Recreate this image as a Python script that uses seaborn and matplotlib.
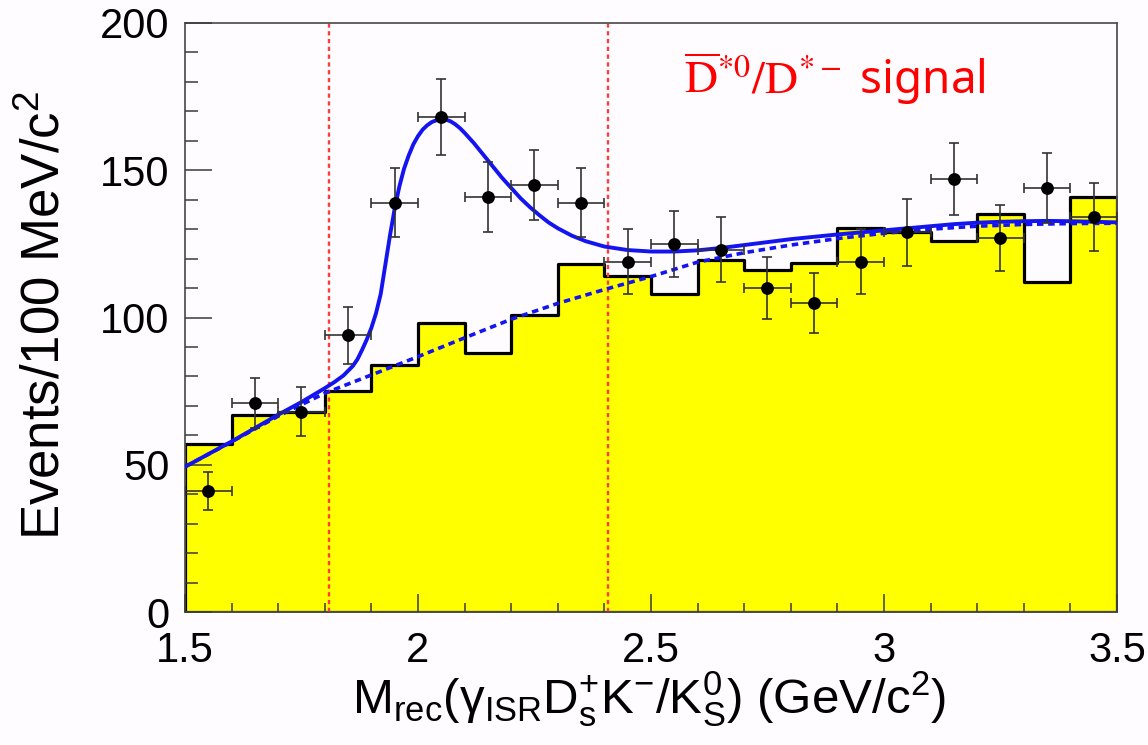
import numpy as np
import pandas as pd
import matplotlib
matplotlib.use("Agg")
import matplotlib.pyplot as plt
import seaborn as sns

# ---- data -------------------------------------------------------------
bin_edges = [1.5, 1.6, 1.7, 1.8, 1.9, 2.0, 2.1, 2.2, 2.3, 2.4, 2.5,
             2.6, 2.7, 2.8, 2.9, 3.0, 3.1, 3.2, 3.3, 3.4, 3.5]
bin_centers = [1.55, 1.65, 1.75, 1.85, 1.95, 2.05, 2.15, 2.25, 2.35, 2.45,
               2.55, 2.65, 2.75, 2.85, 2.95, 3.05, 3.15, 3.25, 3.35, 3.45]

# observed events per bin
data_counts = [41, 71, 68, 94, 139, 168, 141, 145, 139, 119,
               125, 123, 110, 105, 119, 129, 147, 127, 144, 134]

# background histogram (yellow)
bkg_hist = [57, 67, 68, 75, 84, 98, 88, 101, 118, 114,
            108, 119.5, 116, 118.5, 130.5, 129, 126, 135, 112, 141]

# background component of the fit (dashed)
bkg_fit_x = [1.50, 1.60, 1.70, 1.80, 1.90, 2.00, 2.10, 2.20, 2.30, 2.40, 2.50,
             2.60, 2.70, 2.80, 2.90, 3.00, 3.10, 3.20, 3.30, 3.40, 3.50]
bkg_fit_y = [49.3, 57.8, 66.5, 74.3, 80.5, 86.7, 93.1, 99.4, 104.8, 109.5, 113.9,
             118.8, 122.0, 124.6, 126.8, 128.6, 130.0, 131.0, 131.6, 131.9, 132.0]

# total fit (solid)
tot_fit_x = [1.50, 1.60, 1.70, 1.75, 1.80, 1.82, 1.84, 1.86, 1.87, 1.88, 1.89,
             1.90, 1.91, 1.92, 1.93, 1.94, 1.95, 1.96, 1.97, 1.98, 1.99,
             2.00, 2.01, 2.02, 2.03, 2.04, 2.05, 2.06, 2.07, 2.08, 2.09,
             2.10, 2.12, 2.14, 2.16, 2.18, 2.20, 2.22, 2.24, 2.26, 2.28,
             2.30, 2.33, 2.36, 2.40, 2.45, 2.50, 2.55, 2.60, 2.65, 2.70,
             2.75, 2.80, 2.85, 2.90, 2.95, 3.00, 3.05, 3.10, 3.15, 3.20,
             3.25, 3.30, 3.35, 3.40, 3.45, 3.50]
tot_fit_y = [49.3, 57.9, 67.0, 71.3, 76.0, 78.0, 80.3, 83.5, 85.8, 89.0, 92.5,
             96.5, 101.5, 108.0, 118.0, 128.0, 137.0, 144.5, 150.5, 155.0, 158.8,
             161.6, 163.8, 165.3, 166.4, 167.0, 167.3, 167.2, 166.6, 165.6, 164.3,
             162.7, 159.2, 155.3, 151.4, 147.5, 144.0, 140.5, 137.5, 134.8, 132.3,
             130.3, 127.8, 125.9, 124.1, 122.9, 122.4, 122.4, 122.8, 123.6, 124.6,
             125.6, 126.6, 127.4, 128.2, 128.9, 129.6, 130.3, 131.0, 131.7, 132.2,
             132.5, 132.7, 132.8, 132.7, 132.5, 132.3]

# signal window boundaries
window_lo = 1.808
window_hi = 2.407

x_ticks = [1.5, 2.0, 2.5, 3.0, 3.5]
x_ticklabels = ["1.5", "2", "2.5", "3", "3.5"]
y_ticks = [0, 50, 100, 150, 200]
y_ticklabels = ["0", "50", "100", "150", "200"]

# ---- style ------------------------------------------------------------
sns.set_theme(style="white")
plt.rcParams["font.family"] = ["Liberation Sans", "DejaVu Sans"]
plt.rcParams["mathtext.fontset"] = "custom"
plt.rcParams["mathtext.rm"] = "Liberation Sans"
plt.rcParams["mathtext.it"] = "Liberation Sans:italic"
plt.rcParams["mathtext.bf"] = "Liberation Sans:bold"
plt.rcParams["mathtext.sf"] = "Liberation Sans"

bg = "#fefcff"
axis_col = "#3a3a3a"

fig = plt.figure(figsize=(11.48, 7.45), dpi=100, facecolor=bg)
ax = fig.add_axes([185 / 1148, 1 - 612 / 745, 932 / 1148, 589 / 745])
ax.set_facecolor(bg)

hist_df = pd.DataFrame({"mass": bin_centers, "weight": bkg_hist})
sns.histplot(data=hist_df, x="mass", weights="weight", bins=bin_edges,
             element="step", fill=True, alpha=1.0,
             facecolor="#ffff00", edgecolor="black", linewidth=2.3,
             ax=ax, zorder=1)

for xv in (window_lo, window_hi):
    ax.axvline(xv, color="#ff3b3b", linewidth=1.7, linestyle=(0, (1.8, 1.5)), zorder=2)

sns.lineplot(x=bkg_fit_x, y=bkg_fit_y, sort=False, estimator=None, ax=ax,
             color="#1414f0", linewidth=2.6, linestyle=(0, (1.8, 1.3)), zorder=3)
sns.lineplot(x=tot_fit_x, y=tot_fit_y, sort=False, estimator=None, ax=ax,
             color="#1414f0", linewidth=2.8, zorder=3)

counts = np.array(data_counts, dtype=float)
ax.errorbar(bin_centers, counts, yerr=np.sqrt(counts), xerr=0.05,
            fmt="none", ecolor="#333333", elinewidth=1.2, capsize=3.4,
            capthick=1.2, zorder=4)
sns.scatterplot(x=bin_centers, y=data_counts, ax=ax, color="black", s=85,
                edgecolor="black", linewidth=0, zorder=5)

# ---- axes ---------------------------------------------------------------
ax.set_xlim(1.5, 3.5)
ax.set_ylim(0, 200)
ax.set_xticks(x_ticks)
ax.set_xticklabels(x_ticklabels)
ax.set_yticks(y_ticks)
ax.set_yticklabels(y_ticklabels)
ax.set_xticks(np.arange(1.5, 3.51, 0.1), minor=True)
ax.set_yticks(np.arange(0, 201, 10), minor=True)
ax.set_axisbelow(False)

ax.tick_params(axis="both", which="both", bottom=True, left=True,
               top=False, right=False)
ax.tick_params(axis="y", which="major", direction="in", length=19.5, width=1.1,
               color=axis_col, labelsize=30, pad=11, labelcolor="black")
ax.tick_params(axis="y", which="minor", direction="in", length=9.5, width=1.1,
               color=axis_col)
ax.tick_params(axis="x", which="major", direction="in", length=13, width=1.1,
               color=axis_col, labelsize=30, pad=14, labelcolor="black")
ax.tick_params(axis="x", which="minor", direction="in", length=6.5, width=1.1,
               color=axis_col)

for side, sp in ax.spines.items():
    sp.set_visible(True)
    sp.set_color("#555555")
    sp.set_linewidth(1.3)

ax.set_xlabel(r"M$_{\mathrm{rec}}$(γ$_{\mathrm{ISR}}$D$_{\mathrm{s}}^{+}$K$^{-}$/K$_{\mathrm{S}}^{0}$) (GeV/c$^{2}$)",
              fontsize=35.5, color="black", va="top")
ax.xaxis.set_label_coords(0.498, -0.098)
ax.set_ylabel(r"Events/100 MeV/c$^{2}$", fontsize=38, color="black", va="center")
ax.yaxis.set_label_coords(-0.150, 0.504)

ax.text(0.535, 0.906, r"$\overline{\mathrm{D}}^{*0}/\mathrm{D}^{*-}$ signal",
        transform=ax.transAxes, color="#ff0000", fontsize=33,
        family=["Noto Sans", "DejaVu Sans"], math_fontfamily="stix",
        ha="left", va="center", zorder=6)

fig.savefig("out.png", dpi=100, facecolor=bg)
